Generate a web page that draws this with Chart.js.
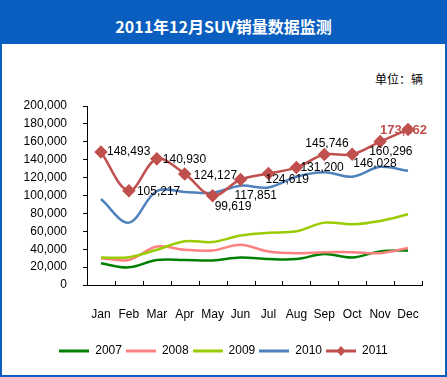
<!DOCTYPE html>
<html>
<head>
<meta charset="utf-8">
<script src="https://cdn.jsdelivr.net/npm/chart.js@4/dist/chart.umd.min.js"></script>
<style>
  body { margin: 0; }
  #frame { position: relative; width: 447px; height: 377px; background: #0A5EC0; overflow: hidden; }
  #title { position: absolute; left: 0; top: 14px; width: 447px; line-height: 20px; text-align: center;
           color: #fff; font: bold 16px "Noto Sans CJK SC", sans-serif; }
  #inner { position: absolute; left: 2px; top: 44px; width: 443px; height: 331px; background: #fff; }
  #unit { position: absolute; left: 373px; top: 26px; font: 12px "Noto Sans CJK SC", sans-serif; color: #000; }
  canvas { position: absolute; left: 0; top: 0; }
</style>
</head>
<body>
<div id="frame">
  <div id="title">2011年12月SUV销量数据监测</div>
  <div id="inner">
    <div id="unit">单位：辆</div>
    <canvas id="ctx" width="443" height="331"></canvas>
  </div>
</div>
<script>
const months = ['Jan','Feb','Mar','Apr','May','Jun','Jul','Aug','Sep','Oct','Nov','Dec'];
const years = ['2007','2008','2009','2010','2011'];
const s2007 = [24200, 19700, 28000, 28000, 27500, 30700, 29000, 29000, 34500, 30700, 37500, 38600];
const s2008 = [30000, 28000, 43000, 39400, 38600, 45000, 37500, 35600, 36700, 36700, 35600, 41300];
const s2009 = [30700, 31000, 39400, 48900, 48000, 55300, 58300, 60000, 69700, 67800, 71600, 79000];
const s2010 = [96000, 69700, 105000, 104000, 103000, 111000, 109000, 121000, 126000, 121000, 132000, 127600];
const s2011 = [148493, 105217, 140930, 124127, 99619, 117851, 124619, 131200, 145746, 146028, 160296, 173862];
const colors = ['#008000', '#FF8080', '#99CC00', '#4F81BD', '#C0504D'];

// label offsets for the 2011 values [dx to left edge, dy to middle]
const lblOff = [[6,0],[8,1],[6,1],[9,2],[2,11],[-6,16],[-3,6],[4,0],[-19,-11],[1,9],[-11,10],[-28,1]];

const FONT = '"Liberation Sans", Arial, sans-serif';

function legendIcon(color, diamond) {
    const c = document.createElement('canvas');
    c.width = 30; c.height = 12;
    const g = c.getContext('2d');
    g.strokeStyle = color; g.lineWidth = 3;
    g.beginPath(); g.moveTo(0, 6); g.lineTo(30, 6); g.stroke();
    if (diamond) {
        g.fillStyle = color;
        g.beginPath(); g.moveTo(15, 1); g.lineTo(19.5, 6); g.lineTo(15, 11); g.lineTo(10.5, 6); g.closePath(); g.fill();
    }
    return c;
}

const extras = {
    id: 'extras',
    afterDraw(chart) {
        const ctx = chart.ctx;
        const a = chart.chartArea;
        ctx.save();
        ctx.strokeStyle = '#000';
        ctx.lineWidth = 1;
        const step = (a.right - a.left) / months.length;
        for (let i = 0; i <= months.length; i++) {
            const x = Math.round(a.left + i * step) + 0.5;
            ctx.beginPath(); ctx.moveTo(x, a.bottom); ctx.lineTo(x, a.bottom - 4); ctx.stroke();
        }
        const meta = chart.getDatasetMeta(4);
        ctx.font = '12px ' + FONT;
        ctx.textBaseline = 'middle';
        ctx.textAlign = 'left';
        meta.data.forEach((pt, i) => {
            const txt = s2011[i].toLocaleString('en-US');
            if (i === s2011.length - 1) {
                ctx.font = 'bold 13px ' + FONT;
                ctx.fillStyle = '#C0504D';
            } else {
                ctx.fillStyle = '#000';
            }
            ctx.fillText(txt, pt.x + lblOff[i][0], pt.y + lblOff[i][1]);
        });
        ctx.restore();
    }
};

const series = [s2007, s2008, s2009, s2010, s2011];
const datasets = series.map((s, i) => ({
    label: years[i],
    data: s,
    borderColor: colors[i],
    backgroundColor: colors[i],
    borderWidth: 2.5,
    tension: 0.35,
    pointRadius: i === 4 ? 5 : 0,
    pointHoverRadius: i === 4 ? 5 : 0,
    pointStyle: i === 4 ? 'rectRot' : 'circle',
    order: 4 - i,
    fill: false
}));

new Chart(document.getElementById('ctx'), {
    type: 'line',
    data: { labels: months, datasets: datasets },
    plugins: [extras],
    options: {
        responsive: false,
        animation: false,
        layout: { padding: { left: 0, right: 0, top: 62, bottom: 8 } },
        plugins: {
            tooltip: { enabled: false },
            legend: {
                position: 'bottom',
                labels: {
                    usePointStyle: true,
                    pointStyleWidth: 30,
                    padding: 4,
                    color: '#000',
                    font: { size: 12, family: FONT },
                    generateLabels: (chart) => chart.data.datasets.map((d, i) => ({
                        text: d.label,
                        pointStyle: legendIcon(colors[i], i === 4),
                        fillStyle: colors[i],
                        strokeStyle: colors[i],
                        lineWidth: 0,
                        datasetIndex: i,
                        hidden: false
                    }))
                }
            }
        },
        scales: {
            x: {
                offset: true,
                grid: { display: true, drawOnChartArea: false, drawTicks: false, color: '#000' },
                border: { display: true, color: '#000', width: 1 },
                ticks: { color: '#000', padding: 22, font: { size: 12, family: FONT }, maxRotation: 0, autoSkip: false },
                afterFit: (s) => { s.height = 56; }
            },
            y: {
                min: 0, max: 200000,
                grid: { display: true, drawOnChartArea: false, drawTicks: true, tickLength: 4, color: '#000' },
                border: { display: true, color: '#000', width: 1 },
                ticks: {
                    stepSize: 20000,
                    color: '#000',
                    padding: 16,
                    font: { size: 12, family: FONT },
                    callback: (v) => v.toLocaleString('en-US')
                },
                afterFit: (s) => { s.width = 85; }
            },
            yr: {
                position: 'right',
                min: 0, max: 200000,
                grid: { display: false },
                border: { display: false },
                ticks: { display: false },
                afterFit: (s) => { s.width = 23; }
            }
        }
    }
});
</script>
</body>
</html>
